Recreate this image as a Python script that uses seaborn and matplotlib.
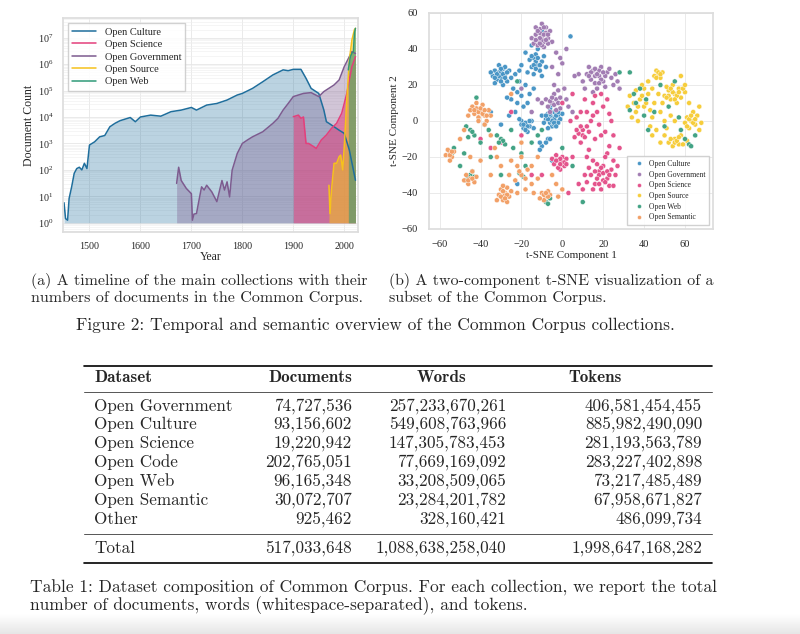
import matplotlib
matplotlib.use('Agg')
import matplotlib.pyplot as plt
import numpy as np
import pandas as pd
import seaborn as sns

# ---- timeline data (year, log10 document count) ----
culture_years = [1450, 1453, 1457, 1460, 1465, 1470, 1475, 1480, 1485, 1490, 1495, 1500, 1510, 1520, 1530,
                 1540, 1550, 1560, 1580, 1590, 1600, 1620, 1640, 1660, 1680, 1700, 1710, 1730, 1750, 1770,
                 1790, 1800, 1820, 1840, 1860, 1880, 1890, 1900, 1915, 1925, 1935, 1950, 1960, 1965, 1970,
                 1980, 1990, 2000, 2010, 2022]
culture_log = [0.76, 0.16, 0.1, 0.92, 1.36, 1.87, 2.05, 2.1, 2.0, 2.25, 2.05, 2.94, 3.06, 3.25, 3.3,
               3.63, 3.76, 3.86, 3.98, 3.82, 4.0, 4.07, 4.03, 4.2, 4.26, 4.36, 4.26, 4.45, 4.51, 4.64,
               4.83, 4.89, 5.08, 5.33, 5.59, 5.78, 5.75, 5.8, 5.8, 5.46, 5.08, 4.89, 4.26, 3.82, 3.76,
               3.63, 3.5, 3.38, 2.75, 1.61]

gov_years = [1671, 1675, 1680, 1690, 1700, 1702, 1705, 1710, 1715, 1720, 1725, 1730, 1740, 1750, 1760,
             1765, 1770, 1775, 1780, 1790, 1800, 1810, 1820, 1840, 1860, 1870, 1880, 1890, 1900, 1920,
             1935, 1950, 1960, 1980, 1990, 2000, 2005, 2010, 2015, 2022]
gov_log = [1.49, 2.1, 1.6, 1.3, 1.1, 0.1, 0.33, 0.35, 0.86, 1.36, 1.24, 1.42, 1.17, 0.8, 1.6,
           1.24, 1.55, 0.98, 1.99, 2.62, 3.0, 3.13, 3.25, 3.44, 3.76, 3.95, 4.26, 4.51, 4.77, 4.89,
           4.92, 4.77, 4.96, 5.21, 5.4, 5.9, 6.09, 6.28, 6.47, 6.4]

science_years = [1900, 1910, 1915, 1920, 1925, 1930, 1940, 1945, 1955, 1965, 1975, 1985, 1995, 2000,
                 2005, 2010, 2015, 2022]
science_log = [4.01, 4.07, 3.95, 4.0, 3.0, 3.0, 2.88, 2.81, 3.13, 3.32, 3.57, 3.76, 4.14, 4.51,
               4.89, 5.4, 5.9, 6.28]

source_years = [1970, 1972, 1975, 1980, 1985, 1990, 1993, 1997, 2000, 2005, 2010, 2015, 2020, 2022]
source_log = [1.42, 0.35, 1.24, 2.25, 2.25, 2.5, 2.56, 2.0, 2.88, 4.64, 6.15, 6.91, 7.3, 7.35]

web_years = [2008, 2012, 2015, 2018, 2020, 2022]
web_log = [5.78, 6.28, 6.4, 6.47, 7.16, 7.35]

# ---- t-SNE points ----
culture_pts = [(-33, 28), (-31, 27), (-29, 29), (-30, 24), (-32, 23), (-28, 26), (-27, 22), (-34, 25), (-31, 31),
               (-29, 20), (-26, 28), (-33, 21), (-30, 27), (-28, 30), (-25, 24), (-35, 27),
               (-31, 25), (-29, 26), (-32, 26), (-30, 29), (-28, 24), (-33, 24), (-30, 22), (-27, 27),
               (-14, 35), (-12, 31), (-15, 30), (-10, 33), (-13, 37), (-16, 34), (-11, 28), (-9, 36), (-17, 27),
               (-12, 40), (-14, 26), (-8, 30), (-18, 38), (-15, 42), (-10, 25),
               (-13, 33), (-12, 35), (-14, 31), (-11, 31), (-13, 29), (-15, 36),
               (-24, 18), (-20, 14), (-22, 10), (-18, 20), (-25, 12), (-21, 22), (-19, 8), (-23, 5), (-16, 15),
               (-26, 3), (-14, 18), (-20, 0), (-23, 26), (-21, 28), (-20, 31), (-22, 16), (-17, 10),
               (-5, 2), (-3, 0), (-7, 4), (-4, 5), (-6, -1), (-2, 3), (-8, 1), (-5, -3), (-3, 6), (-1, 1), (-6, 7),
               (-9, -1), (-4, -2), (-7, -4), (-2, -1), (0, 4), (-10, 3), (-5, 9),
               (-4, 1), (-6, 3), (-3, 3), (-5, 0), (-7, 1), (-4, -1), (-6, 4), (-2, 5), (-8, 3), (-3, -3),
               (-18, -1), (-16, -3), (-19, -4), (-15, 0), (-20, -2), (-17, -6), (-14, -4), (-21, 1),
               (-17, -3), (-18, -5), (-16, 0), (-19, -2),
               (-10, -14), (-7, -10), (-11, -16), (-5, -22), (-6, -10), (-30, -2), (-35, 5), (-22, -35),
               (-10, 50), (4, 47), (-27, 13), (-11, -12), (-8, -12)]
gov_pts = [(-10, 47), (-12, 45), (-8, 49), (-11, 51), (-13, 48), (-9, 44), (-7, 46), (-14, 43), (-10, 54),
           (-6, 50), (-12, 42), (-8, 52), (-15, 46), (-11, 49), (-5, 44), (-9, 41), (-13, 52), (-7, 43),
           (-10, 45), (-9, 48), (-11, 46), (-12, 50), (-8, 45), (-10, 42), (-7, 48), (-13, 45), (-9, 52),
           (-11, 43),
           (-3, 38), (-1, 35), (0, 32), (-5, 30), (2, 40), (-2, 26),
           (12, 26), (15, 28), (18, 25), (20, 22), (16, 21), (22, 27), (14, 23), (19, 30), (24, 24), (10, 22),
           (17, 18), (21, 19), (13, 30), (25, 20), (8, 26), (18, 28), (23, 29), (11, 18), (26, 26), (15, 16),
           (16, 25), (14, 27), (19, 23), (17, 26), (21, 25), (13, 25), (20, 27), (18, 21), (16, 29),
           (-5, 10), (-3, 12), (-7, 8), (-1, 7), (-4, 15), (-8, 12), (0, 10), (-2, 17), (-6, 5), (2, 12),
           (-10, 10), (1, 18), (-4, 9), (-2, 10), (-6, 11), (-3, 6), (-1, 13), (-5, 13), (3, 8), (-4, 20),
           (-15, 5), (-12, 12), (5, 5), (28, 18), (-20, 18), (6, 25), (27, 22)]
science_pts = [(8, -7), (10, -5), (6, -9), (12, -3), (9, -12), (14, 0), (17, 5), (20, 8), (22, 12), (15, 10),
               (18, -2), (24, 0), (21, -6), (12, 5), (7, 2), (25, -8), (16, -10), (23, 4), (11, 12), (19, 15),
               (10, -8), (7, -5), (9, -3), (11, -9), (13, -6), (15, 3), (19, -8), (23, -14), (13, -16), (22, -18),
               (9, 5), (16, 14), (4, 0),
               (14, -30), (18, -28), (22, -32), (20, -25), (16, -35), (24, -27), (12, -34), (19, -38), (26, -30),
               (15, -22), (21, -20), (10, -38), (23, -36), (17, -24), (13, -26), (25, -22), (20, -33), (11, -30),
               (8, -35), (27, -25), (18, -30), (20, -29), (17, -32), (22, -28), (19, -26), (21, -34), (16, -28),
               (23, -30), (18, -35), (15, -38), (25, -36), (12, -20),
               (-2, -22), (0, -20), (-4, -24), (1, -25), (-3, -19), (-1, -27), (2, -21), (-5, -21), (0, -23),
               (-2, -26), (-1, -21), (1, -23), (-3, -22), (-1, -24), (2, -24),
               (-20, -8), (-30, -12), (-15, -30), (-35, -15), (5, -20), (0, 10), (-25, 5), (3, -40), (-10, -30),
               (28, -15), (5, 15), (-40, -10)]
source_pts = [(55, 15), (53, 12), (57, 18), (52, 17), (58, 13), (54, 20), (50, 14), (56, 10), (60, 16), (51, 19),
              (54, 16), (56, 14), (53, 18), (55, 12), (57, 16), (52, 14), (59, 18), (51, 13),
              (47, 26), (46, 28), (48, 24), (45, 25), (49, 27), (47, 27), (48, 26), (46, 24),
              (63, 0), (61, 2), (65, -2), (62, -4), (66, 3), (64, 5), (60, -1), (67, -5),
              (62, 1), (64, -1), (63, 3), (61, -3), (65, 1), (68, -1),
              (55, -10), (52, -12), (57, -13), (50, -8), (54, -14), (58, -8), (61, -11),
              (55, -12), (53, -10), (56, -11), (57, -9), (59, -13),
              (38, 12), (40, 8), (35, 10), (42, 15), (36, 5), (44, 2), (40, 18), (33, 14), (43, -3), (37, 0),
              (45, 10), (48, 5), (39, 20), (46, -5), (32, 8), (50, 0), (53, 3), (42, 22), (36, 17), (58, 25),
              (48, -12), (44, -8), (62, 10), (67, 8), (34, 2), (55, 0), (47, 15),
              (41, 10), (39, 14), (44, 18), (37, 8), (49, 10), (60, 20), (51, -4), (43, 6)]
web_pts = [(35, 15), (45, 5), (60, -10), (62, -13), (40, 3), (52, 8), (38, 18), (58, -5), (65, -8), (48, 20),
           (42, -5), (55, 22), (33, 6), (36, 10), (50, -3), (63, -14), (57, 2), (41, 12), (28, 27), (33, 27),
           (-45, -5), (-43, -8), (-47, -3), (-44, -6), (-46, -9), (-30, -10), (-28, -13), (-32, -8), (-29, -11),
           (-31, -12), (-45, -30), (-47, -33), (-44, -28), (-46, -31), (-43, -31),
           (-55, -17), (-53, -15), (-54, -18), (-20, -30), (-19, -31), (-21, -29), (-8, -45), (-6, -43), (-7, -46),
           (-20, -18), (-35, -20), (-40, -12), (-25, -5), (-15, -12), (-10, -5), (-38, -2), (-18, -25),
           (-50, -25), (-22, 22), (5, -25), (-42, 13), (-12, -8), (-36, -5), (-24, -15), (-30, -30), (0, -15),
           (-48, -18), (10, -45)]
semantic_pts = [(-40, 5), (-42, 7), (-38, 3), (-44, 8), (-36, 6), (-41, 2), (-39, 9), (-43, 4), (-37, 0), (-45, 6),
                (-35, 3), (-38, -2), (-42, 10), (-46, 3), (-41, 5), (-39, 4), (-40, 7), (-43, 6), (-37, 3),
                (-41, 0), (-38, 6),
                (-55, -18), (-54, -20), (-56, -16), (-53, -17), (-55, -22), (-57, -19), (-55, -19), (-54, -17),
                (-45, -32), (-47, -30), (-43, -34), (-46, -35), (-44, -28), (-48, -33), (-42, -31), (-46, -33),
                (-44, -32),
                (-28, -40), (-30, -38), (-26, -42), (-29, -44), (-31, -41), (-27, -37), (-25, -39), (-29, -36),
                (-32, -44), (-27, -45), (-28, -41), (-29, -39), (-27, -41), (-30, -42), (-28, -43),
                (-8, -42), (-10, -40), (-6, -41), (-9, -44), (-7, -39), (-11, -43), (-9, -41), (-7, -42), (-8, -40),
                (-20, -30), (-22, -25), (-15, -25), (-25, -22), (-18, -32), (-12, -20), (-30, -25), (-35, -30),
                (-33, -15), (-20, -12), (-15, -35), (-22, -40), (-50, -10), (-40, -22), (-5, -30), (-3, -35),
                (-25, 15), (-20, -20), (-14, -40), (0, -38), (-21, -28), (-17, -27), (-23, -33), (-32, -20),
                (-26, -30), (-12, -32), (-48, -5), (-35, -8), (-45, -20), (-18, -38), (-2, -42)]

# ---- table ----
datasets = ['Open Government', 'Open Culture', 'Open Science', 'Open Code', 'Open Web', 'Open Semantic', 'Other']
documents = [74727536, 93156602, 19220942, 202765051, 96165348, 30072707, 925462]
words = [257233670261, 549608763966, 147305783453, 77669169092, 33208509065, 23284201782, 328160421]
tokens = [406581454455, 885982490090, 281193563789, 283227402898, 73217485489, 67958671827, 486099734]
total_documents = 517033648
total_words = 1088638258040
total_tokens = 1998647168282

sns.set_theme(style='whitegrid')
plt.rcParams['font.family'] = ['Liberation Serif', 'DejaVu Serif']
plt.rcParams['mathtext.fontset'] = 'stix'

fig = plt.figure(figsize=(8, 6.34), dpi=100)

# ---------------- (a) timeline ----------------
ax1 = fig.add_axes([63/800, 1-232/634, 295/800, 214/634])
series = [
    ('Open Culture', culture_years, culture_log, '#1f6e9c', 0.3),
    ('Open Science', science_years, science_log, '#e43f7b', 0.55),
    ('Open Government', gov_years, gov_log, '#7d5b8f', 0.35),
    ('Open Source', source_years, source_log, '#f6c21c', 0.55),
    ('Open Web', web_years, web_log, '#2f9a78', 0.55),
]
draw_order = [0, 2, 1, 3, 4]
for i in draw_order:
    name, yrs, lg, col, a = series[i]
    vals = 10 ** np.array(lg)
    ax1.fill_between(yrs, 1, vals, color=col, alpha=a, lw=0)
handles = []
for name, yrs, lg, col, a in series:
    vals = 10 ** np.array(lg)
    line, = ax1.plot(yrs, vals, color=col, lw=1.1, label=name)
    handles.append(line)
ax1.set_yscale('log')
ax1.set_xlim(1448, 2027)
ax1.set_ylim(0.45, 5.5e7)
ax1.set_yticks([10 ** k for k in range(8)])
ax1.set_xticks([1500, 1600, 1700, 1800, 1900, 2000])
ax1.grid(which='major', color='#e6e6e6', lw=0.6)
ax1.grid(which='minor', axis='y', color='#eeeeee', lw=0.4)
ax1.tick_params(labelsize=7.2, pad=1)
ax1.set_xlabel('Year', fontsize=8.5, labelpad=0)
ax1.set_ylabel('Document Count', fontsize=8.5, labelpad=2)
for sp in ax1.spines.values():
    sp.set_color('#dddddd')
ax1.legend(handles=handles, loc='upper left', fontsize=7.5, frameon=True, handlelength=2.3,
           borderpad=0.4, labelspacing=0.3, fancybox=False, framealpha=0.9)

# ---------------- (b) t-SNE ----------------
ax2 = fig.add_axes([429/800, 1-229/634, 284/800, 216/634])
cats = ['Open Culture', 'Open Government', 'Open Science', 'Open Source', 'Open Web', 'Open Semantic']
pts = [culture_pts, gov_pts, science_pts, source_pts, web_pts, semantic_pts]
rows = []
for c, p in zip(cats, pts):
    for x, y in p:
        rows.append({'x': x, 'y': y, 'collection': c})
df = pd.DataFrame(rows)
palette = {'Open Culture': '#4a96c6', 'Open Government': '#a27db3', 'Open Science': '#e4548c',
           'Open Source': '#f6cd3c', 'Open Web': '#43a385', 'Open Semantic': '#f2a067'}
sns.scatterplot(data=df, x='x', y='y', hue='collection', hue_order=cats, palette=palette,
                s=13, edgecolor='white', linewidth=0.3, ax=ax2)
ax2.set_xlim(-65.2, 73.7)
ax2.set_ylim(-60, 60)
ax2.set_xticks([-60, -40, -20, 0, 20, 40, 60])
ax2.set_yticks([-60, -40, -20, 0, 20, 40, 60])
ax2.grid(color='#e6e6e6', lw=0.6)
ax2.tick_params(labelsize=7.5, pad=2)
ax2.set_xlabel('t-SNE Component 1', fontsize=8, labelpad=1)
ax2.set_ylabel('t-SNE Component 2', fontsize=8, labelpad=2)
for sp in ax2.spines.values():
    sp.set_color('#dddddd')
ax2.legend(loc='lower right', fontsize=5.5, markerscale=0.8, borderpad=0.5, labelspacing=0.35,
           handletextpad=0.3, fancybox=False, framealpha=0.9)

# ---------------- page text (captions + table) ----------------
page = fig.add_axes([0, 0, 1, 1])
page.set_zorder(5)
page.patch.set_alpha(0)
page.axis('off')

cm = 'cmr10'
cmb = 'cmb10'
sub_fs = 11.5
cap_fs = 12.5
page.text(31, 281, '(a) A timeline of the main collections with their', family=cm, fontsize=sub_fs, va='center')
page.text(31, 298, 'numbers of documents in the Common Corpus.', family=cm, fontsize=sub_fs, va='center')
page.text(389, 281, '(b) A two-component t-SNE visualization of a', family=cm, fontsize=sub_fs, va='center')
page.text(389, 298, 'subset of the Common Corpus.', family=cm, fontsize=sub_fs, va='center')
page.text(375, 325, 'Figure 2: Temporal and semantic overview of the Common Corpus collections.',
          family=cm, fontsize=cap_fs, va='center', ha='center')

tab_fs = 12.3
page.plot([84, 712], [366, 366], color='black', lw=1.2)
page.plot([84, 712], [392, 392], color='#555555', lw=0.7)
page.plot([84, 712], [534, 534], color='#555555', lw=0.7)
page.plot([84, 712], [563, 563], color='black', lw=1.2)
page.text(94, 378, 'Dataset', family=cmb, fontsize=tab_fs, va='center')
page.text(352, 378, 'Documents', family=cmb, fontsize=tab_fs, va='center', ha='right')
page.text(442, 378, 'Words', family=cmb, fontsize=tab_fs, va='center', ha='center')
page.text(595, 378, 'Tokens', family=cmb, fontsize=tab_fs, va='center', ha='center')
row_y = [406, 424.5, 443, 462, 481, 500, 519]
for i, name in enumerate(datasets):
    y = row_y[i]
    page.text(94, y, name, family=cm, fontsize=tab_fs, va='center')
    page.text(352, y, f'{documents[i]:,}', family=cm, fontsize=tab_fs, va='center', ha='right')
    page.text(506, y, f'{words[i]:,}', family=cm, fontsize=tab_fs, va='center', ha='right')
    page.text(702, y, f'{tokens[i]:,}', family=cm, fontsize=tab_fs, va='center', ha='right')
page.text(94, 548, 'Total', family=cm, fontsize=tab_fs, va='center')
page.text(352, 548, f'{total_documents:,}', family=cm, fontsize=tab_fs, va='center', ha='right')
page.text(506, 548, f'{total_words:,}', family=cm, fontsize=tab_fs, va='center', ha='right')
page.text(702, 548, f'{total_tokens:,}', family=cm, fontsize=tab_fs, va='center', ha='right')

page.text(30, 588, 'Table 1: Dataset composition of Common Corpus. For each collection, we report the total',
          family=cm, fontsize=cap_fs, va='center')
page.text(30, 606, 'number of documents, words (whitespace-separated), and tokens.',
          family=cm, fontsize=cap_fs, va='center')

# screenshot fade at the bottom edge
grad = np.linspace(1.0, 0.9, 50).reshape(-1, 1)
page.imshow(grad, cmap='gray', vmin=0, vmax=1, extent=[0, 800, 634, 614], aspect='auto', zorder=-2)
page.set_xlim(0, 800)
page.set_ylim(634, 0)

fig.savefig('out.png', dpi=100, facecolor='white')
